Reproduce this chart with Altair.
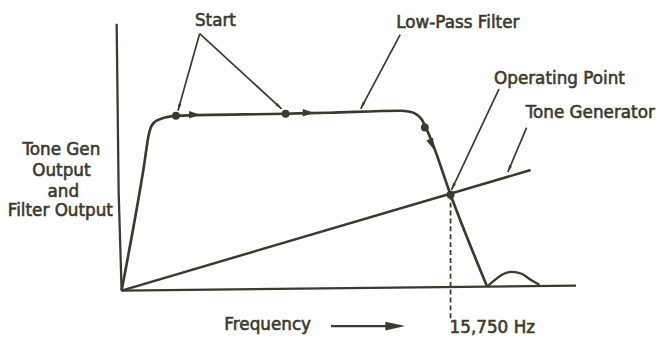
import altair as alt
import pandas as pd

INK = "#3a3a2e"
FONT = "DejaVu Sans"

# ---- data (abstract frequency units on x, output level on y; origin = 0,0) ----
yaxis_x = [0, -3, -5]
yaxis_y = [0, 100, 270]
xaxis_x = [0, 460]
xaxis_y = [0, 5]

filter_x = [0, 22, 28, 30, 34, 40, 48, 55, 166, 210, 282, 292, 299, 304, 308, 312, 333, 370]
filter_y = [0, 122, 160, 166, 171, 174, 176, 177, 179, 180, 182, 181, 178, 173, 165, 156, 97, 4]
bump_x = [370, 377, 385, 395, 405, 414, 423]
bump_y = [4, 10, 16, 19, 17, 11, 6]

tone_x = [0, 414]
tone_y = [0, 122]

dot_x = [55, 166, 307, 333]
dot_y = [177, 179, 165, 97]

flow_x = [74, 189, 314]
flow_y = [178, 180, 148]
flow_angle = [90, 90, 159]

ann_seg = ["start1", "start1", "start2", "start2", "lp", "lp", "op", "op", "tg", "tg"]
ann_x = [79, 57, 79, 162, 282, 242, 382, 334, 410, 391]
ann_y = [260, 182, 260, 184, 259, 184, 204, 102, 165, 120]

head_x = [58, 159.4, 243.6, 335.5, 392.4]
head_y = [185.4, 186.4, 187.1, 105.2, 123.2]
head_angle = [196, 132.5, 208, 205, 203]

dash_x = [333, 333]
dash_y = [97, -30]

freq_arrow_x = [212, 275]
freq_arrow_y = [-36, -36]
freq_head_x = [277]
freq_head_y = [-36]

center_text = ["Start", "Tone Gen", "Output", "and", "Filter Output"]
center_x = [95, -61, -61, -59, -62]
center_y = [273, 142, 121, 100, 80]

left_text = ["Low-Pass Filter", "Operating Point", "Tone Generator", "Frequency", "15,750 Hz"]
left_x = [278, 377, 409, 104, 332]
left_y = [271, 214, 180, -35, -38]

# ---- scales ----
xs = alt.Scale(domain=[-115, 544], nice=False, zero=False)
ys = alt.Scale(domain=[-47, 284], nice=False, zero=False)


def enc(**kw):
    return dict(
        x=alt.X("x:Q", scale=xs, axis=None),
        y=alt.Y("y:Q", scale=ys, axis=None),
        **kw,
    )


def df(xv, yv, **extra):
    d = {"x": xv, "y": yv}
    d.update(extra)
    d["o"] = list(range(len(xv)))
    return pd.DataFrame(d)


axes = alt.Chart(
    pd.concat([df(yaxis_x, yaxis_y, s=["y"] * 3), df(xaxis_x, xaxis_y, s=["x"] * 2)])
).mark_line(color=INK, strokeWidth=2.3).encode(**enc(detail="s:N", order="o:Q"))

filt = alt.Chart(df(filter_x, filter_y)).mark_line(
    color=INK, strokeWidth=2.7, interpolate="monotone"
).encode(**enc(order="o:Q"))

bump = alt.Chart(df(bump_x, bump_y)).mark_line(
    color=INK, strokeWidth=2.3, interpolate="monotone"
).encode(**enc(order="o:Q"))

tone = alt.Chart(df(tone_x, tone_y)).mark_line(color=INK, strokeWidth=2.5).encode(
    **enc(order="o:Q")
)

dots = alt.Chart(df(dot_x, dot_y)).mark_circle(color=INK, opacity=1, size=64).encode(**enc())

flow = alt.Chart(df(flow_x, flow_y, a=flow_angle)).mark_point(
    shape="M0,-1L0.65,1L-0.65,1Z", filled=True, color=INK, opacity=1, size=130
).encode(**enc(angle=alt.Angle("a:Q", scale=None)))

ann = alt.Chart(df(ann_x, ann_y, s=ann_seg)).mark_line(color=INK, strokeWidth=1.7).encode(
    **enc(detail="s:N", order="o:Q")
)

heads = alt.Chart(df(head_x, head_y, a=head_angle)).mark_point(
    shape="M0,-1L0.45,1L-0.45,1Z", filled=True, color=INK, opacity=1, size=50
).encode(**enc(angle=alt.Angle("a:Q", scale=None)))

dash = alt.Chart(df(dash_x, dash_y)).mark_line(
    color=INK, strokeWidth=1.8, strokeDash=[5, 3]
).encode(**enc(order="o:Q"))

farrow = alt.Chart(df(freq_arrow_x, freq_arrow_y)).mark_line(
    color=INK, strokeWidth=2.4
).encode(**enc(order="o:Q"))

fhead = alt.Chart(df(freq_head_x, freq_head_y, a=[90])).mark_point(
    shape="M0,-1L0.45,1L-0.45,1Z", filled=True, color=INK, opacity=1, size=400
).encode(**enc(angle=alt.Angle("a:Q", scale=None)))

TEXT_STYLE = dict(font=FONT, fontSize=17, color=INK, stroke=INK, strokeWidth=0.6, baseline="middle")

tc = alt.Chart(pd.DataFrame({"x": center_x, "y": center_y, "t": center_text})).mark_text(
    align="center", **TEXT_STYLE
).encode(**enc(text="t:N"))

tl = alt.Chart(pd.DataFrame({"x": left_x, "y": left_y, "t": left_text})).mark_text(
    align="left", **TEXT_STYLE
).encode(**enc(text="t:N"))

chart = (
    alt.layer(axes, filt, bump, tone, dash, ann, heads, farrow, fhead, flow, dots, tc, tl)
    .properties(width=659, height=331, autosize="none", padding=0, background="white")
    .configure_view(stroke=None)
)

chart.save("out.html", embed_options={"renderer": "svg", "actions": False})
